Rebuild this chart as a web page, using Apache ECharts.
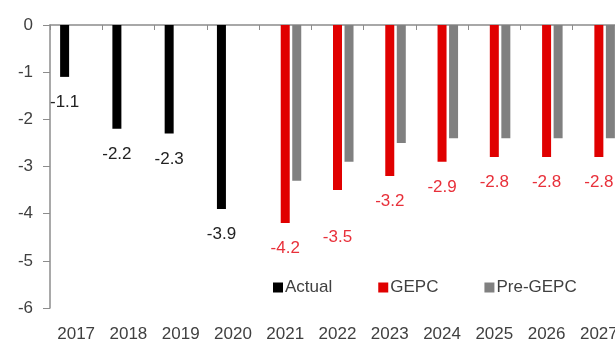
<!DOCTYPE html>
<html>
<head>
<meta charset="utf-8">
<script src="https://cdn.jsdelivr.net/npm/echarts@6/dist/echarts.min.js"></script>
<style>
  html, body { margin: 0; padding: 0; background: #fff; }
  #chart { width: 615px; height: 345px; }
</style>
</head>
<body>
<div id="chart"></div>
<script>
const years = ['2017', '2018', '2019', '2020', '2021', '2022', '2023', '2024', '2025', '2026', '2027']
const actual = [-1.1, -2.2, -2.3, -3.9, null, null, null, null, null, null, null]
const gepc = [null, null, null, null, -4.2, -3.5, -3.2, -2.9, -2.8, -2.8, -2.8]
const preGepc = [null, null, null, null, -3.3, -2.9, -2.5, -2.4, -2.4, -2.4, -2.4]

const font = 'Liberation Sans, Arial, sans-serif'
const textColor = '#404040'
const axisColor = '#8c8c8c'

const chart = echarts.init(document.getElementById('chart'))

// the 2022 GEPC label sits lower in the original, clear of the grey bar
const gepcData = gepc.map((v, i) =>
  years[i] === '2022' ? { value: v, label: { offset: [0, 22] } } : v
)

const barLabel = (color) => ({
  show: true,
  position: 'bottom',
  distance: 17,
  color: color,
  fontFamily: font,
  fontSize: 17,
  formatter: (p) => p.value == null ? '' : p.value.toFixed(1),
})

chart.setOption({
  animation: false,
  backgroundColor: '#fff',
  textStyle: { fontFamily: font },
  // the plot runs past the right edge, 2027 is cut off in the original
  grid: { left: 50, top: 25, width: 575, height: 283, outerBoundsMode: 'none' },
  legend: {
    left: 268,
    top: 274,
    icon: 'rect',
    itemWidth: 10,
    itemHeight: 10,
    itemGap: 46,
    textStyle: { color: textColor, fontSize: 17, fontFamily: font, padding: [0, 0, 0, -3] },
    data: ['Actual', 'GEPC', 'Pre-GEPC'],
  },
  xAxis: [
    {
      type: 'category',
      data: years,
      position: 'top',
      axisLine: { show: true, onZero: false, lineStyle: { color: axisColor, width: 1.5 } },
      axisTick: { show: true, inside: true, length: 5, lineStyle: { color: axisColor } },
      axisLabel: { show: false },
      splitLine: { show: false },
    },
    {
      type: 'category',
      data: years,
      position: 'bottom',
      axisLine: { show: false },
      axisTick: { show: false },
      axisLabel: { color: textColor, fontSize: 17, fontFamily: font, margin: 18 },
    },
  ],
  yAxis: {
    type: 'value',
    min: -6,
    max: 0,
    interval: 1,
    axisLine: { show: true, lineStyle: { color: axisColor, width: 1.5 } },
    axisTick: { show: true, length: 7, lineStyle: { color: axisColor } },
    axisLabel: { color: textColor, fontSize: 17, fontFamily: font, margin: 17 },
    splitLine: { show: false },
  },
  series: [
    {
      name: 'Actual',
      type: 'bar',
      xAxisIndex: 0,
      data: actual,
      barWidth: 9,
      barGap: '28%',
      itemStyle: { color: '#000000' },
      label: barLabel('#222222'),
    },
    {
      name: 'GEPC',
      type: 'bar',
      xAxisIndex: 0,
      data: gepcData,
      barWidth: 9,
      barGap: '28%',
      itemStyle: { color: '#e00000' },
      label: barLabel('#e8303a'),
    },
    {
      name: 'Pre-GEPC',
      type: 'bar',
      xAxisIndex: 0,
      data: preGepc,
      barWidth: 9,
      barGap: '28%',
      itemStyle: { color: '#808080' },
    },
  ],
})
</script>
</body>
</html>
